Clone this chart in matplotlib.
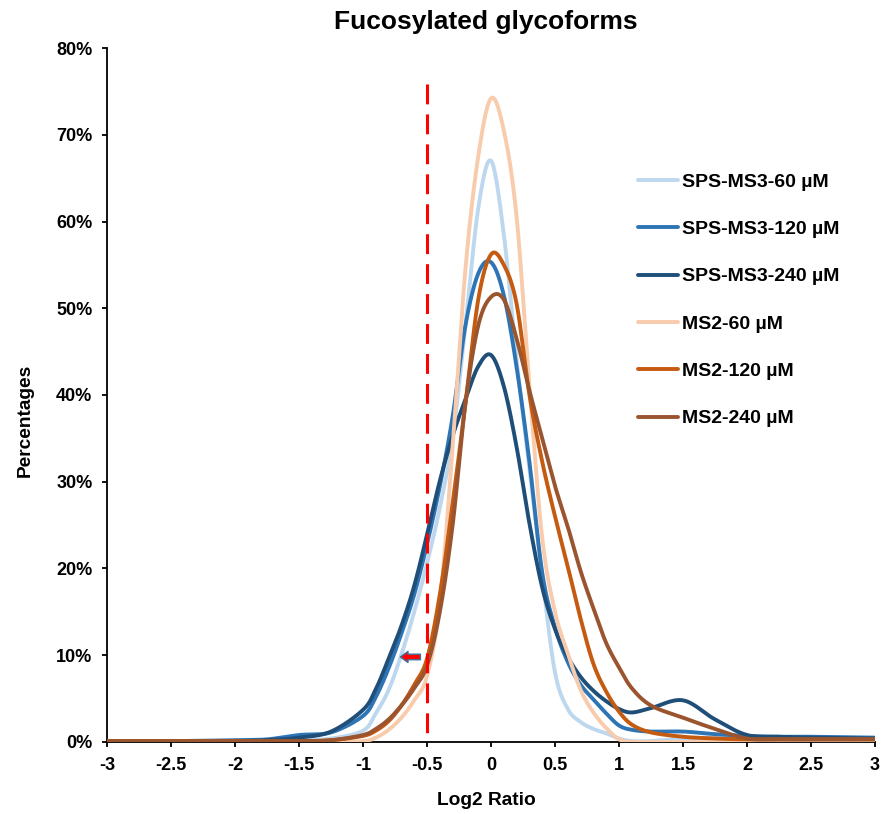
import numpy as np
import matplotlib
matplotlib.use("Agg")
import matplotlib.pyplot as plt

plt.rcParams['font.family'] = ['Liberation Sans', 'DejaVu Sans']

# ---- data ----
x_vals = [-3, -2.5, -2, -1.75, -1.5, -1.25, -1.0, -0.9, -0.8, -0.7, -0.6, -0.5, -0.4, -0.3,
          -0.2, -0.1, 0, 0.1, 0.2, 0.3, 0.4, 0.5, 0.6, 0.7, 0.8, 0.9, 1.0, 1.1, 1.25, 1.5,
          1.75, 2.0, 2.25, 2.5, 3.0]

sps_60 = [0.1, 0.1, 0.1, 0.1, 0.2, 0.4, 1.3, 3.3, 6.0, 10.1, 15.0, 20.6, 27.0, 35.0,
          48.0, 61.5, 67.0, 58.5, 44.0, 31.5, 19.0, 8.0, 3.8, 2.3, 1.5, 1.0, 0.4, 0.1, 0.1, 0.4,
          0.5, 0.4, 0.3, 0.3, 0.3]
sps_120 = [0.1, 0.1, 0.2, 0.3, 0.8, 1.1, 3.0, 5.2, 8.5, 12.5, 17.0, 22.8, 29.5, 37.5,
           48.0, 54.0, 55.3, 51.5, 43.2, 32.3, 19.5, 13.2, 9.2, 6.6, 4.9, 3.3, 1.9, 1.4, 1.2, 1.2,
           0.9, 0.7, 0.6, 0.6, 0.5]
sps_240 = [0.1, 0.1, 0.1, 0.2, 0.5, 1.2, 3.7, 6.1, 9.6, 13.4, 18.0, 23.9, 30.1, 35.3,
           39.5, 43.3, 44.6, 41.0, 34.0, 25.2, 17.8, 13.0, 9.8, 7.5, 5.9, 4.7, 3.8, 3.4, 3.9, 4.8,
           2.6, 0.8, 0.6, 0.5, 0.4]
ms2_60 = [0.0, 0.0, 0.0, 0.0, 0.0, 0.0, 0.1, 0.5, 1.4, 2.8, 4.8, 7.6, 16.0, 34.0,
          54.5, 67.5, 74.2, 70.5, 60.5, 41.0, 23.5, 15.0, 10.2, 6.0, 3.4, 1.6, 0.3, 0.0, 0.0, 0.0,
          0.0, 0.0, 0.0, 0.0, 0.0]
ms2_120 = [0.1, 0.1, 0.1, 0.1, 0.1, 0.2, 0.7, 1.3, 2.4, 4.2, 6.6, 9.6, 17.0, 27.5,
           39.0, 51.0, 56.2, 55.0, 50.5, 40.0, 32.3, 26.0, 20.2, 14.2, 9.0, 5.8, 3.5, 2.0, 1.1, 0.6,
           0.4, 0.3, 0.3, 0.3, 0.3]
ms2_240 = [0.1, 0.1, 0.1, 0.1, 0.1, 0.2, 0.8, 1.5, 2.6, 4.2, 6.2, 8.8, 15.0, 25.0,
           39.0, 48.0, 51.3, 51.0, 46.5, 40.5, 35.0, 29.5, 24.8, 19.7, 15.4, 11.4, 8.6, 6.2, 4.2, 2.8,
           1.5, 0.4, 0.3, 0.3, 0.3]

series_labels = ['SPS-MS3-60 µM', 'SPS-MS3-120 µM', 'SPS-MS3-240 µM',
                 'MS2-60 µM', 'MS2-120 µM', 'MS2-240 µM']
series_values = [sps_60, sps_120, sps_240, ms2_60, ms2_120, ms2_240]
series_colors = ['#BDD7EE', '#2E75B6', '#1F4E79', '#F8CBAD', '#C55A11', '#9A552E']

x_ticks = [-3, -2.5, -2, -1.5, -1, -0.5, 0, 0.5, 1, 1.5, 2, 2.5, 3]
x_tick_labels = ['-3', '-2.5', '-2', '-1.5', '-1', '-0.5', '0', '0.5', '1', '1.5', '2', '2.5', '3']
y_ticks = [0, 10, 20, 30, 40, 50, 60, 70, 80]
y_tick_labels = ['0%', '10%', '20%', '30%', '40%', '50%', '60%', '70%', '80%']
cutoff = -0.5


def smooth(xs, ys, n=30):
    """Excel-style smoothed line (Catmull-Rom Bezier through the points)."""
    P = np.column_stack([xs, ys]).astype(float)
    Pext = np.vstack([P[0], P, P[-1]])
    out = []
    t = np.linspace(0, 1, n)[:, None]
    for i in range(len(P) - 1):
        p0, p1, p2, p3 = Pext[i], Pext[i + 1], Pext[i + 2], Pext[i + 3]
        c1 = p1 + (p2 - p0) / 6.0
        c2 = p2 - (p3 - p1) / 6.0
        seg = ((1 - t) ** 3) * p1 + 3 * ((1 - t) ** 2) * t * c1 + 3 * (1 - t) * t ** 2 * c2 + t ** 3 * p2
        out.append(seg if i == 0 else seg[1:])
    out = np.vstack(out)
    return out[:, 0], out[:, 1]


fig = plt.figure(figsize=(8.81, 8.14), dpi=100)
ax = fig.add_axes([0.1215, 0.0885, 0.8717, 0.8525])

for lab, vals, col in zip(series_labels, series_values, series_colors):
    sx, sy = smooth(x_vals, vals)
    ax.plot(sx, sy, color=col, lw=2.8, label=lab, solid_capstyle='round', zorder=3)

ax.plot([cutoff, cutoff], [75.8, 0], color='#FF0000', lw=2.2, dashes=(6.5, 3.3), zorder=4)

ax.annotate('', xy=(-0.73, 9.8), xytext=(-0.53, 9.8),
            arrowprops=dict(arrowstyle='simple,head_width=0.8,head_length=0.55,tail_width=0.4',
                            fc='#FF0000', ec='#41719C', lw=1.0), zorder=5)

ax.set_xlim(-3, 3)
ax.set_ylim(0, 80)
ax.set_xticks(x_ticks)
ax.set_xticklabels(x_tick_labels)
ax.set_yticks(y_ticks)
ax.set_yticklabels(y_tick_labels)
for s in ['top', 'right']:
    ax.spines[s].set_visible(False)
for s in ['left', 'bottom']:
    ax.spines[s].set_linewidth(1.3)
ax.tick_params(axis='both', direction='out', length=3.5, width=1.3, labelsize=13, pad=7)
for lbl in ax.get_xticklabels() + ax.get_yticklabels():
    lbl.set_fontweight('bold')

fig.text(0.551, 0.973, 'Fucosylated glycoforms', fontsize=19, fontweight='bold',
         ha='center', va='center')
ax.set_xlabel('Log2 Ratio', fontsize=13.8, fontweight='bold')
ax.xaxis.set_label_coords(0.4935, -0.072)
ax.set_ylabel('Percentages', fontsize=13.8, fontweight='bold')
ax.yaxis.set_label_coords(-0.096, 0.464)

leg = ax.legend(loc='upper left', bbox_to_anchor=(0.681, 0.831), frameon=False,
                fontsize=14, handlelength=2.06, handletextpad=0.2, labelspacing=1.53,
                borderaxespad=0)
for t in leg.get_texts():
    t.set_fontweight('bold')

fig.savefig('out.png', dpi=100)
